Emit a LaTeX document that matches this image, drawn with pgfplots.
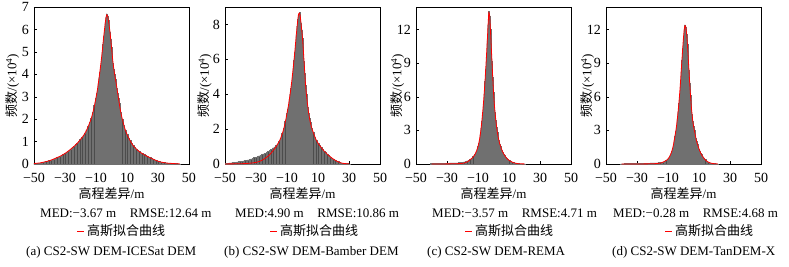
\documentclass[border=0pt]{standalone}
\usepackage{fontspec}
\setmainfont{Liberation Serif}
\newfontfamily\cjk{Noto Sans CJK SC}
\usepackage{pgfplots}
\usepackage{pgfplotstable}
\pgfplotsset{compat=1.18}

% panel a: tails (1 m bins)
\pgfplotstableread{
x y
-50 0.02
-49 0.03
-48 0.035
-47 0.04
-46 0.05
-45 0.065
-44 0.08
-43 0.095
-42 0.11
-41 0.13
-40 0.15
-39 0.175
-38 0.2
-37 0.23
-36 0.26
-35 0.29
-34 0.32
-33 0.355
-32 0.39
-31 0.43
-30 0.47
-29 0.52
-28 0.57
-27 0.62
-26 0.68
-25 0.74
-24 0.8
-23 0.865
-22 0.93
-21 1.01
-20 1.1
-19 1.18
-18 1.27
-17 1.39
-16 1.52
-15 1.67
-14 1.85
-13 2.05
-12 2.3
-11 2.6
5 2.7
6 2.3
7 2.0
8 1.72
9 1.5
10 1.32
11 1.17
12 1.04
13 0.92
14 0.82
15 0.74
16 0.67
17 0.61
18 0.55
19 0.5
20 0.46
21 0.42
22 0.38
23 0.345
24 0.31
25 0.28
26 0.245
27 0.21
28 0.18
29 0.15
30 0.125
31 0.105
32 0.085
33 0.07
34 0.06
35 0.05
36 0.04
37 0.035
38 0.03
39 0.025
40 0.02
41 0.015
42 0.012
43 0.01
44 0.008
}\tailA

% panel a: core (0.5 m bins)
\pgfplotstableread{
x y
-10.5 2.78
-10 2.95
-9.5 3.15
-9 3.35
-8.5 3.6
-8 3.85
-7.5 4.1
-7 4.4
-6.5 4.7
-6 5.0
-5.5 5.35
-5 5.7
-4.5 6.0
-4 6.3
-3.5 6.55
-3 6.7
-2.5 6.6
-2 6.4
-1.5 6.15
-1 5.9
-0.5 5.55
0 5.2
0.5 4.85
1 4.5
1.5 4.25
2 4.0
2.5 3.8
3 3.6
3.5 3.38
4 3.15
4.5 2.92
}\coreA

\pgfplotstableread{
x y
-50 0.02
-48 0.035
-46 0.05
-44 0.08
-42 0.11
-40 0.15
-38 0.2
-36 0.26
-34 0.32
-32 0.39
-30 0.47
-28 0.57
-26 0.68
-24 0.8
-22 0.93
-20 1.1
-18 1.27
-16 1.52
-14 1.85
-13 2.05
-12 2.3
-11 2.6
-10 2.95
-9 3.35
-8 3.85
-7 4.4
-6 5.0
-5 5.7
-4 6.3
-3.5 6.55
-3 6.65
-2.5 6.6
-2 6.4
-1 5.9
0 5.2
1 4.5
2 4.0
3 3.6
4 3.15
5 2.7
6 2.3
7 2.0
8 1.72
9 1.5
10 1.32
12 1.04
14 0.82
16 0.67
18 0.55
20 0.46
22 0.38
24 0.31
26 0.245
28 0.18
30 0.125
32 0.085
34 0.06
36 0.04
38 0.03
40 0.02
42 0.012
44 0.008
}\fitA

% panel b
\pgfplotstableread{
x y
-50 0.03
-49 0.04
-48 0.05
-47 0.06
-46 0.07
-45 0.09
-44 0.1
-43 0.11
-42 0.12
-41 0.13
-40 0.14
-39 0.16
-38 0.18
-37 0.2
-36 0.22
-35 0.24
-34 0.27
-33 0.3
-32 0.33
-31 0.37
-30 0.4
-29 0.43
-28 0.47
-27 0.5
-26 0.54
-25 0.58
-24 0.63
-23 0.68
-22 0.74
-21 0.8
-20 0.86
-19 0.92
-18 0.98
-17 1.05
-16 1.15
-15 1.3
-14 1.5
-13 1.75
-12 2.05
-11 2.45
-10 2.9
5 2.4
6 2.05
7 1.8
8 1.55
9 1.35
10 1.2
11 1.07
12 0.96
13 0.84
14 0.74
15 0.65
16 0.56
17 0.48
18 0.41
19 0.34
20 0.28
21 0.22
22 0.17
23 0.13
24 0.09
25 0.06
26 0.04
27 0.03
28 0.02
29 0.015
30 0.01
}\tailB

\pgfplotstableread{
x y
-9.5 3.15
-9 3.4
-8.5 3.7
-8 4.0
-7.5 4.35
-7 4.7
-6.5 5.1
-6 5.5
-5.5 5.95
-5 6.4
-4.5 6.9
-4 7.4
-3.5 7.9
-3 8.3
-2.5 8.6
-2 8.7
-1.5 8.5
-1 8.1
-0.5 7.7
0 7.2
0.5 6.6
1 5.9
1.5 5.2
2 4.5
2.5 4.0
3 3.6
3.5 3.25
4 2.9
4.5 2.65
}\coreB

\pgfplotstableread{
x y
-50 0.005
-45 0.008
-40 0.015
-36 0.03
-34 0.045
-32 0.065
-30 0.09
-28 0.14
-26 0.22
-24 0.33
-22 0.47
-20 0.65
-19 0.76
-18 0.88
-17 1.0
-16 1.15
-15 1.3
-14 1.5
-13 1.75
-12 2.05
-11 2.45
-10 2.9
-9 3.4
-8 4.0
-7 4.7
-6 5.5
-5 6.4
-4 7.4
-3 8.3
-2.5 8.6
-2 8.65
-1.5 8.5
-1 8.1
0 7.2
1 5.9
2 4.5
3 3.6
4 2.9
5 2.4
6 2.05
7 1.8
8 1.55
9 1.35
10 1.2
11 1.07
12 0.96
13 0.84
14 0.74
15 0.65
16 0.56
17 0.48
18 0.41
19 0.34
20 0.28
21 0.22
22 0.17
23 0.13
24 0.09
25 0.06
26 0.04
28 0.02
30 0.01
}\fitB

% panel c: tails (1 m bins) and core (0.5 m bins)
\pgfplotstableread{
x y
-40 0.03
-39 0.03
-38 0.04
-37 0.04
-36 0.05
-35 0.05
-34 0.06
-33 0.06
-32 0.07
-31 0.07
-30 0.08
-29 0.08
-28 0.09
-27 0.09
-26 0.1
-25 0.1
-24 0.11
-23 0.11
-22 0.12
-21 0.13
-20 0.15
-19 0.18
-18 0.22
-17 0.27
-16 0.33
-15 0.4
-14 0.5
-13 0.65
9 0.44
10 0.33
11 0.24
12 0.17
13 0.12
14 0.08
15 0.05
16 0.03
17 0.02
18 0.015
19 0.01
20 0.008
}\tailC

\pgfplotstableread{
x y
-12.5 0.75
-12 0.85
-11.5 1.0
-11 1.15
-10.5 1.33
-10 1.55
-9.5 1.85
-9 2.2
-8.5 2.65
-8 3.2
-7.5 3.85
-7 4.6
-6.5 5.4
-6 6.3
-5.5 7.35
-5 8.5
-4.5 9.75
-4 11.0
-3.5 12.4
-3 13.6
-2.5 13.2
-2 12.0
-1.5 10.6
-1 9.2
-0.5 7.7
0 6.4
0.5 5.4
1 4.6
1.5 3.9
2 3.3
2.5 2.8
3 2.4
3.5 2.1
4 1.8
4.5 1.6
5 1.4
5.5 1.2
6 1.05
6.5 0.92
7 0.8
7.5 0.7
8 0.6
8.5 0.52
}\coreC

\pgfplotstableread{
x y
-40 0.005
-30 0.01
-25 0.02
-22 0.04
-20 0.06
-19 0.09
-18 0.13
-17 0.19
-16 0.27
-15 0.4
-14 0.5
-13 0.65
-12.5 0.75
-12 0.85
-11.5 1.0
-11 1.15
-10.5 1.33
-10 1.55
-9.5 1.85
-9 2.2
-8.5 2.65
-8 3.2
-7.5 3.85
-7 4.6
-6.5 5.4
-6 6.3
-5.5 7.35
-5 8.5
-4.5 9.75
-4 11.0
-3.5 12.4
-3 13.5
-2.5 13.2
-2 12.0
-1.5 10.6
-1 9.2
-0.5 7.7
0 6.4
0.5 5.4
1 4.6
1.5 3.9
2 3.3
2.5 2.8
3 2.4
3.5 2.1
4 1.8
4.5 1.6
5 1.4
5.5 1.2
6 1.05
6.5 0.92
7 0.8
7.5 0.7
8 0.6
8.5 0.52
9 0.44
10 0.33
11 0.24
12 0.17
13 0.12
14 0.08
15 0.05
16 0.03
18 0.015
20 0.008
}\fitC

% panel d
\pgfplotstableread{
x y
-40 0.02
-39 0.02
-38 0.025
-37 0.025
-36 0.03
-35 0.03
-34 0.035
-33 0.035
-32 0.04
-31 0.04
-30 0.05
-29 0.05
-28 0.055
-27 0.06
-26 0.065
-25 0.07
-24 0.075
-23 0.08
-22 0.085
-21 0.09
-20 0.09
-19 0.095
-18 0.1
-17 0.11
-16 0.12
-15 0.13
-14 0.15
-13 0.2
-12 0.26
-11 0.33
-10 0.45
13 0.55
14 0.38
15 0.26
16 0.17
17 0.11
18 0.07
19 0.04
20 0.025
21 0.015
22 0.01
}\tailD

\pgfplotstableread{
x y
-9.5 0.55
-9 0.65
-8.5 0.8
-8 0.95
-7.5 1.15
-7 1.4
-6.5 1.72
-6 2.1
-5.5 2.5
-5 2.9
-4.5 3.4
-4 4.0
-3.5 4.65
-3 5.4
-2.5 6.25
-2 7.2
-1.5 8.25
-1 9.3
-0.5 10.35
0 11.3
0.5 12.0
1 12.4
1.5 12.2
2 11.6
2.5 10.7
3 9.6
3.5 8.4
4 7.2
4.5 6.15
5 5.2
5.5 4.45
6 3.8
6.5 3.35
7 3.0
7.5 2.65
8 2.3
8.5 2.0
9 1.75
9.5 1.55
10 1.35
10.5 1.17
11 1.0
11.5 0.87
12 0.75
12.5 0.65
}\coreD

\pgfplotstableread{
x y
-40 0.002
-30 0.005
-25 0.01
-20 0.02
-18 0.035
-16 0.06
-15 0.08
-14 0.12
-13 0.18
-12 0.25
-11 0.33
-10 0.45
-9.5 0.55
-9 0.65
-8.5 0.8
-8 0.95
-7.5 1.15
-7 1.4
-6.5 1.72
-6 2.1
-5.5 2.5
-5 2.9
-4.5 3.4
-4 4.0
-3.5 4.65
-3 5.4
-2.5 6.25
-2 7.2
-1.5 8.25
-1 9.3
-0.5 10.35
0 11.3
0.5 12.0
1 12.35
1.5 12.2
2 11.6
2.5 10.7
3 9.6
3.5 8.4
4 7.2
4.5 6.15
5 5.2
5.5 4.45
6 3.8
6.5 3.35
7 3.0
7.5 2.65
8 2.3
8.5 2.0
9 1.75
9.5 1.55
10 1.35
10.5 1.17
11 1.0
11.5 0.87
12 0.75
12.5 0.65
13 0.55
14 0.38
15 0.26
16 0.17
17 0.11
18 0.07
19 0.04
20 0.025
22 0.01
}\fitD

\newcommand\fs{\fontsize{13bp}{15bp}\selectfont}
\newcommand\fst{\fontsize{14bp}{16bp}\selectfont}

\pgfplotsset{
  panel/.style={
    scale only axis, width=155bp, height=157bp, anchor=south west,
    xmin=-50, xmax=50, ymin=0,
    xtick={-50,-30,-10,10,30,50},
    xticklabels={−50,−30,−10,10,30,50},
    /pgf/number format/assume math mode=true,
    tick align=inside, xtick pos=bottom, ytick pos=left,
    major tick length=3bp,
    tick style={black, line width=0.4pt},
    axis line style={black, line width=0.5pt},
    ticklabel style={font=\fst},
    xticklabel style={anchor=center, yshift=-14bp},
    yticklabel style={xshift=-1.5bp},
    xlabel={{\cjk 高程差异}/m},
    xlabel style={font=\fs, at={(axis description cs:0.5,0)}, anchor=center, yshift=-30bp},
    ylabel={{\cjk 频数}/(×10\textsuperscript{4})},
    ylabel style={font=\fs, anchor=center},
  },
  mybars/.style={ybar, bar shift=0pt, bar width=1, fill=black!70, draw=black!56, line width=0.5pt},
  mybarsfine/.style={ybar, bar shift=0pt, bar width=0.5, fill=black!70, draw=black!56, line width=0.35pt},
  myfit/.style={color=red, line width=0.8pt, smooth, tension=0.4},
}

\begin{document}
\begin{tikzpicture}
\useasboundingbox (0,0) rectangle (789bp,-267bp);

\begin{axis}[panel, at={(34bp,-164bp)}, ymax=7, ytick={0,1,2,3,4,5,6,7},
  ylabel style={at={(axis description cs:-0.14,0.5)}}]
\addplot[mybars] table {\tailA};
\addplot[mybarsfine] table {\coreA};
\addplot[myfit] table {\fitA};
\end{axis}

\begin{axis}[panel, at={(225bp,-164bp)}, ymax=9, ytick={0,2,4,6,8},
  ylabel style={at={(axis description cs:-0.13,0.5)}}]
\addplot[mybars] table {\tailB};
\addplot[mybarsfine] table {\coreB};
\addplot[myfit] table {\fitB};
\end{axis}

\begin{axis}[panel, at={(416bp,-164bp)}, ymax=14, ytick={0,3,6,9,12},
  ylabel style={at={(axis description cs:-0.12,0.5)}}]
\addplot[mybars] table {\tailC};
\addplot[mybarsfine] table {\coreC};
\addplot[myfit] table {\fitC};
\end{axis}

\begin{axis}[panel, at={(606bp,-164bp)}, ymax=14, ytick={0,3,6,9,12},
  ylabel style={at={(axis description cs:-0.12,0.5)}}]
\addplot[mybars] table {\tailD};
\addplot[mybarsfine] table {\coreD};
\addplot[myfit] table {\fitD};
\end{axis}

% statistics lines
\node[anchor=west, inner sep=0, font=\fs] at (40bp,-213bp) {MED:−3.67 m\hspace{0.8em} RMSE:12.64 m};
\node[anchor=west, inner sep=0, font=\fs] at (235bp,-213bp) {MED:4.90 m\hspace{0.8em} RMSE:10.86 m};
\node[anchor=west, inner sep=0, font=\fs] at (432bp,-213bp) {MED:−3.57 m\hspace{0.8em} RMSE:4.71 m};
\node[anchor=west, inner sep=0, font=\fs] at (613bp,-213bp) {MED:−0.28 m\hspace{0.8em} RMSE:4.68 m};

% legends
\foreach \lx in {77,270,465,665}{
  \draw[red, line width=0.8pt] (\lx bp,-231bp) -- ++(7bp,0);
  \node[anchor=west, inner sep=0, font=\fs] at ([xshift=10bp]\lx bp,-231bp) {\cjk 高斯拟合曲线};
}

% captions
\node[anchor=west, inner sep=0, font=\fs] at (26bp,-252bp) {(a) CS2-SW DEM-ICESat DEM};
\node[anchor=west, inner sep=0, font=\fs] at (224bp,-252bp) {(b) CS2-SW DEM-Bamber DEM};
\node[anchor=west, inner sep=0, font=\fs] at (427bp,-252bp) {(c) CS2-SW DEM-REMA};
\node[anchor=west, inner sep=0, font=\fs] at (612bp,-252bp) {(d) CS2-SW DEM-TanDEM-X};
\end{tikzpicture}
\end{document}
